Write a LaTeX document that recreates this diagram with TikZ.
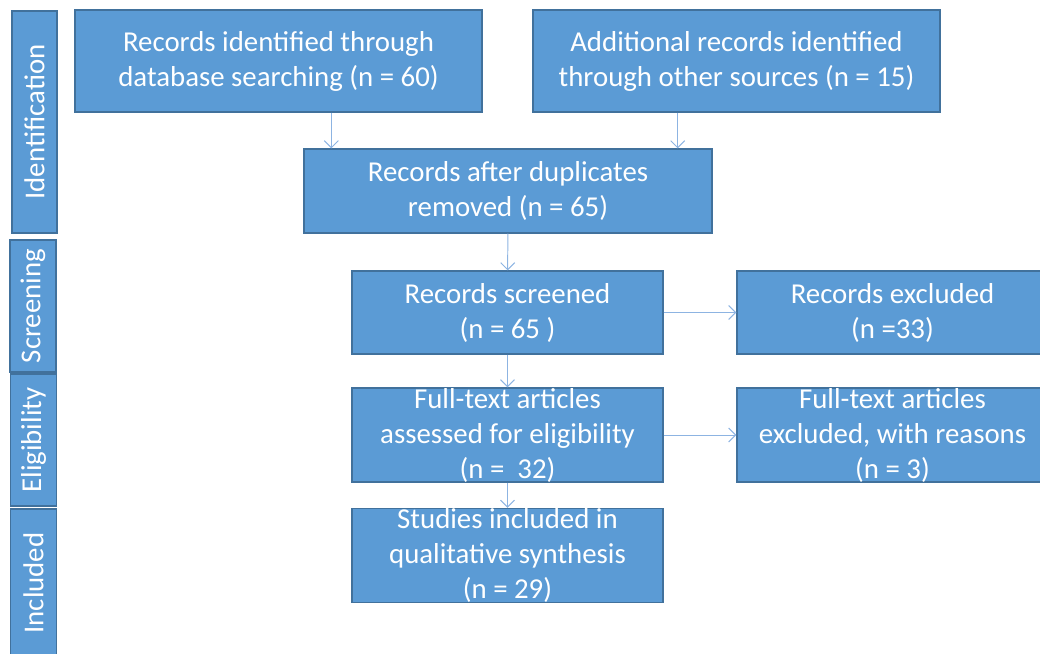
\documentclass[tikz,border=0pt]{standalone}
\usepackage{fontspec}
\setmainfont{Carlito}
\usetikzlibrary{arrows.meta}
\definecolor{boxblue}{HTML}{5B9BD5}
\definecolor{edgeblue}{HTML}{41719C}
\definecolor{arrowblue}{HTML}{8DB4E2}

\begin{document}
\begin{tikzpicture}[
  box/.style={draw=edgeblue, line width=0.9pt, fill=boxblue, text=white, align=center, inner sep=0pt,
    font=\fontsize{20.5}{24.9}\selectfont},
  stage/.style={box, rotate=90},
  arr/.style={draw=arrowblue, line width=0.7pt, -{Straight Barb[length=5pt,width=10pt]}}
]
\useasboundingbox (0,0) rectangle (26,-16.325);

% Stage labels on the left
\node[stage, minimum width=5.55cm, minimum height=1.125cm] (sid) at (0.8625,-3.05) {Identification};
\node[stage, minimum width=3.3cm, minimum height=1.15cm] (ssc) at (0.825,-7.65) {Screening};
\node[stage, minimum width=3.3cm, minimum height=1.15cm] (sel) at (0.8375,-11.0) {Eligibility};
\node[stage, minimum width=3.7cm, minimum height=1.15cm] (sin) at (0.8375,-14.575) {Included};

% Identification
\node[box, minimum width=10.175cm, minimum height=2.55cm] (db) at (6.9625,-1.525) {Records identified through\\database searching (n = 60)};
\node[box, minimum width=10.175cm, minimum height=2.55cm] (other) at (18.4125,-1.525) {Additional records identified\\through other sources (n = 15)};
\node[box, minimum width=10.2cm, minimum height=2.1cm] (dup) at (12.7,-4.775) {Records after duplicates\\removed (n = 65)};

% Screening
\node[box, minimum width=7.775cm, minimum height=2.075cm] (screen) at (12.6875,-7.8125) {Records screened\\(n = 65 )};
\node[box, minimum width=7.775cm, minimum height=2.075cm] (excl) at (22.3125,-7.8125) {Records excluded\\(n =33)};

% Eligibility
\node[box, minimum width=7.775cm, minimum height=2.35cm] (full) at (12.6875,-10.875) {Full-text articles\\assessed for eligibility\\(n = \ 32)};
\node[box, minimum width=7.775cm, minimum height=2.35cm] (fexcl) at (22.3125,-10.875) {Full-text articles\\excluded, with reasons\\(n = 3)};

% Included
\node[box, minimum width=7.775cm, minimum height=2.325cm] (incl) at (12.6875,-13.8875) {Studies included in\\qualitative synthesis\\(n = 29)};

% Connectors
\coordinate (in1) at ([xshift=0.7cm]dup.north west);
\coordinate (in2) at ([xshift=-0.875cm]dup.north east);
\draw[arr] (db.south -| in1) -- (in1);
\draw[arr] (other.south -| in2) -- (in2);
\draw[arr] (dup) -- (screen);
\draw[arr] (screen) -- (excl);
\draw[arr] (screen) -- (full);
\draw[arr] (full) -- (fexcl);
\draw[arr] (full) -- (incl);

\end{tikzpicture}
\end{document}
